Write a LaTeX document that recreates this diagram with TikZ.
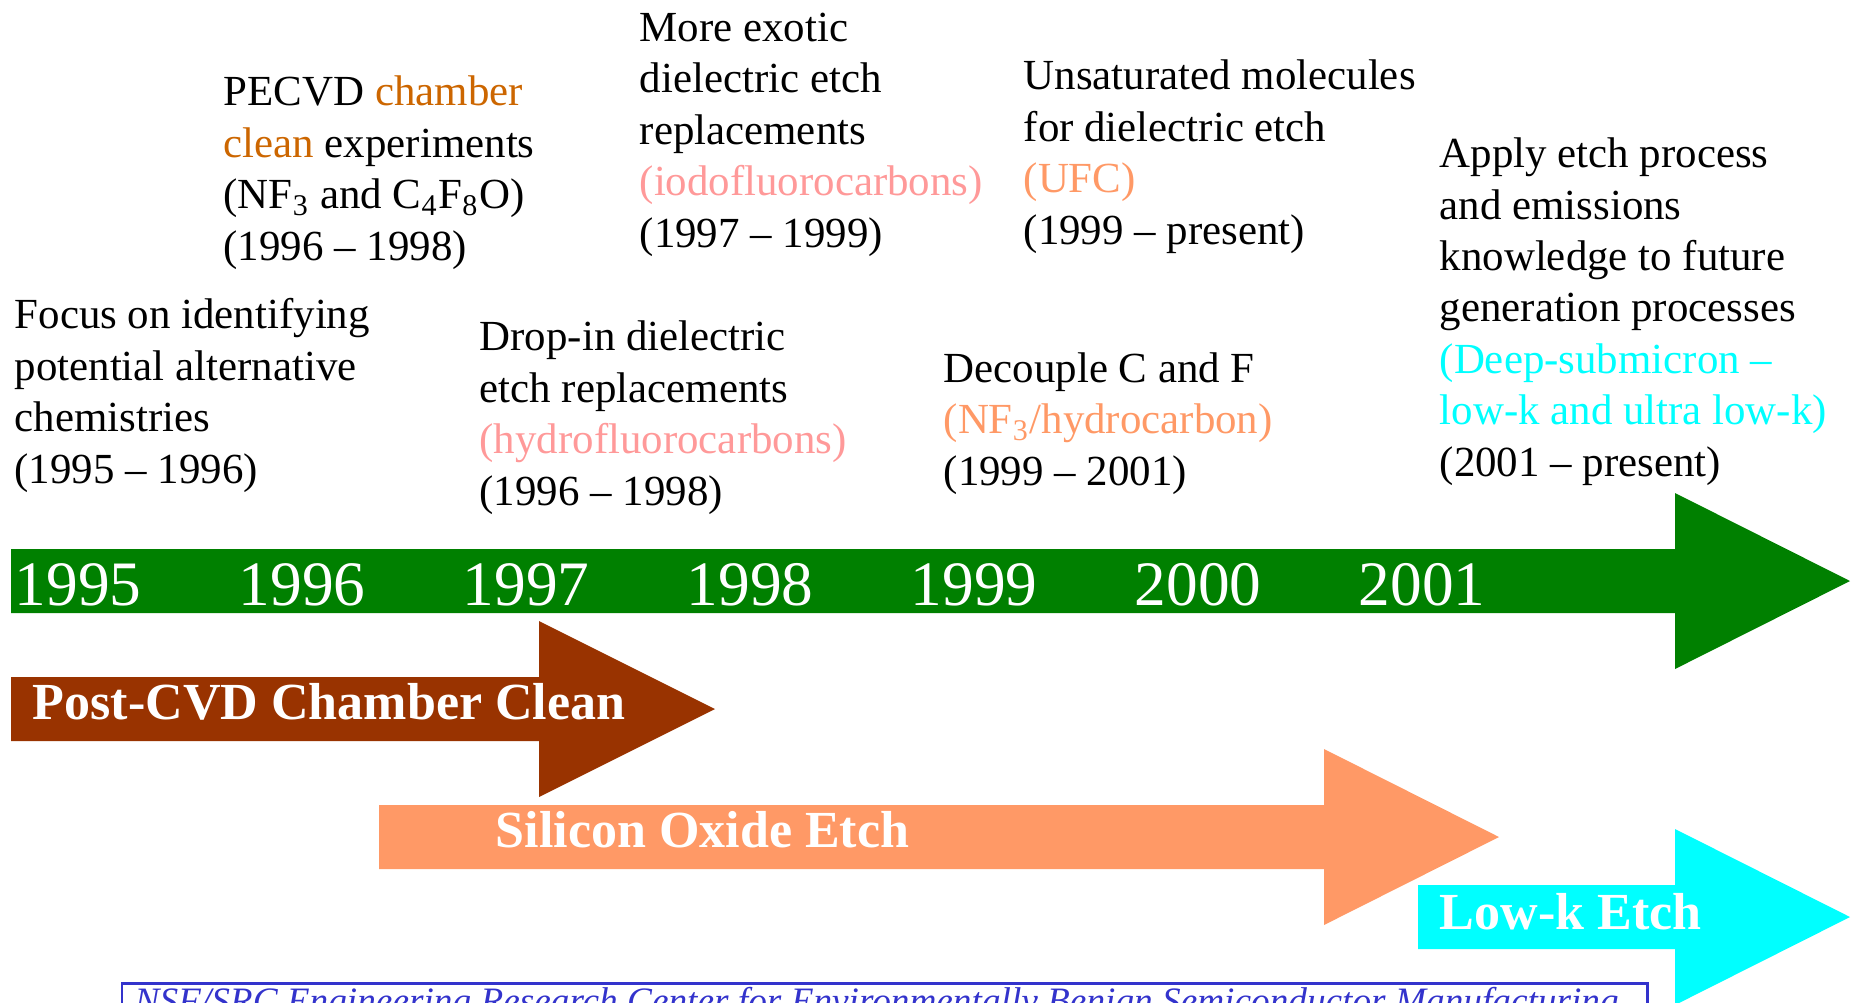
\documentclass[tikz,border=0pt]{standalone}
\usepackage{fontspec}
\setmainfont{Liberation Serif}
\definecolor{bandgreen}{HTML}{008000}
\definecolor{cleanbrown}{HTML}{993300}
\definecolor{oxideorange}{HTML}{FF9966}
\definecolor{lowkcyan}{HTML}{00FFFF}
\definecolor{chamberorange}{HTML}{CC6600}
\definecolor{hfcpink}{HTML}{FF9999}
\definecolor{footerblue}{HTML}{3333CC}
% block arrow: colour, left x, head x, tip x, centre y
\newcommand{\timearrow}[5]{%
  \fill[#1] (#2,#5-32) -- (#3,#5-32) -- (#3,#5-88) -- (#4,#5) -- (#3,#5+88) -- (#3,#5+32) -- (#2,#5+32) -- cycle;}

\begin{document}
\begin{tikzpicture}[x=0.01cm, y=-0.01cm,
  note/.style={anchor=base west, align=left, inner sep=0pt, font=\fontsize{12.2}{14.6}\selectfont},
  year/.style={anchor=base, inner sep=0pt, text=white, font=\fontsize{18}{20}\selectfont},
  barlabel/.style={anchor=base west, inner sep=0pt, text=white, font=\bfseries\fontsize{14.8}{17}\selectfont}]
\useasboundingbox (0,0) rectangle (1858,1002);

% timeline and process arrows
\timearrow{bandgreen}{11}{1675}{1850}{581}
\timearrow{cleanbrown}{11}{539}{715}{709}
\timearrow{oxideorange}{379}{1324}{1499}{837}
\timearrow{lowkcyan}{1418}{1675}{1850}{917}

\foreach \yr [count=\i from 0] in {1995,1996,...,2001}{
  \node[year] (y\yr) at (78+224*\i,605) {\yr};
}

\node[barlabel] (postcvd) at (32,719) {Post-CVD Chamber Clean};
\node[barlabel] (oxide) at (495,847) {Silicon Oxide Etch};
\node[barlabel] (lowk) at (1439,929) {Low-k Etch};

% milestones (placed by the baseline of their last line)
\node[note] (focus) at (14,483) {Focus on identifying\\potential alternative\\chemistries\\(1995 – 1996)};
\node[note] (pecvd) at (223,260) {PECVD \textcolor{chamberorange}{chamber}\\\textcolor{chamberorange}{clean} experiments\\(NF\textsubscript{3} and C\textsubscript{4}F\textsubscript{8}O)\\(1996 – 1998)};
\node[note] (exotic) at (639,247) {More exotic\\dielectric etch\\replacements\\\textcolor{hfcpink}{(iodofluorocarbons)}\\(1997 – 1999)};
\node[note] (unsat) at (1023,244) {Unsaturated molecules\\for dielectric etch\\\textcolor{oxideorange}{(UFC)}\\(1999 – present)};
\node[note] (apply) at (1439,476) {Apply etch process\\and emissions\\knowledge to future\\generation processes\\\textcolor{lowkcyan}{(Deep-submicron –}\\\textcolor{lowkcyan}{low-k and ultra low-k)}\\(2001 – present)};
\node[note] (dropin) at (479,505) {Drop-in dielectric\\etch replacements\\\textcolor{hfcpink}{(hydrofluorocarbons)}\\(1996 – 1998)};
\node[note] (decouple) at (943,485) {Decouple C and F\\\textcolor{oxideorange}{(NF\textsubscript{3}/hydrocarbon)}\\(1999 – 2001)};

% footer
\draw[footerblue, line width=0.85pt] (122,983) rectangle (1647,1060);
\node[anchor=base west, inner sep=0pt, text=footerblue, font=\itshape\fontsize{10.6}{12}\selectfont] (footer) at (134,1013) {NSF/SRC Engineering Research Center for Environmentally Benign Semiconductor Manufacturing};
\end{tikzpicture}
\end{document}
